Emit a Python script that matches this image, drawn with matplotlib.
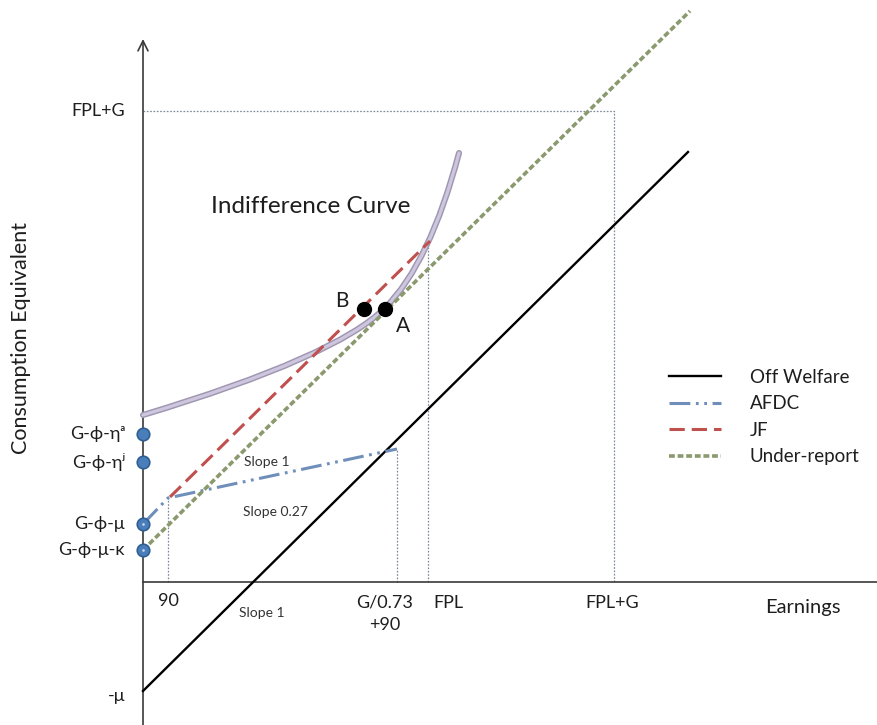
import matplotlib
matplotlib.use("Agg")
import matplotlib.pyplot as plt
from matplotlib.path import Path
from matplotlib.patches import PathPatch

plt.rcParams["font.family"] = ["Lato", "DejaVu Sans"]
plt.rcParams["lines.scale_dashes"] = False

# values (origin at the axes crossing, one unit ~ one pixel)
fpl = 285
g = 186
x_90 = 25
x_afdc_end = 254          # G/0.73 + 90

off_welfare_x = [0, 545]
off_welfare_y = [-109, 430]
underreport_x = [0, 547]
underreport_y = [32, 571]
jf_x = [27, 287]
jf_y = [85, 341]
afdc_x = [0, 25, 254]
afdc_y = [58, 84, 133]

# indifference curve: start, control, A, control, end (two quadratic pieces)
curve_x = [0, 193, 242, 287, 316]
curve_y = [167, 225, 274, 319, 429]

point_names = ["B", "A"]
point_x = [221, 242]
point_y = [273, 273]

yaxis_labels = ["G-ϕ-ηᵃ", "G-ϕ-ηʲ", "G-ϕ-μ", "G-ϕ-μ-κ"]
yaxis_vals = [148, 120, 58, 32]
mu_val = -109

fig = plt.figure(figsize=(8.78, 7.25), dpi=100)
ax = fig.add_axes([0, 0, 1, 1])
ax.set_xlim(-143, 735)
ax.set_ylim(-143, 582)
ax.axis("off")

axis_col = "#3a3a3a"
dot_col = "#7d8796"
text_col = "#1e1e1e"

# axes
ax.plot([0, 735], [0, 0], color=axis_col, lw=1.2, zorder=2)
ax.annotate("", xy=(0, 543), xytext=(0, -143),
            arrowprops=dict(arrowstyle="->", color=axis_col, lw=1.2,
                            mutation_scale=18, shrinkA=0, shrinkB=0))

# guide lines
dotted = dict(color=dot_col, lw=0.9, ls=(0, (1.2, 1.2)), zorder=1)
ax.plot([0, fpl + g, fpl + g], [fpl + g, fpl + g, 0], **dotted)
ax.plot([fpl, fpl], [0, jf_y[-1]], **dotted)
ax.plot([x_afdc_end, x_afdc_end], [0, afdc_y[-1]], **dotted)
ax.plot([x_90, x_90], [0, afdc_y[1]], **dotted)

# indifference curve
codes = [Path.MOVETO, Path.CURVE3, Path.CURVE3, Path.CURVE3, Path.CURVE3]
curve = Path(list(zip(curve_x, curve_y)), codes)
ax.add_patch(PathPatch(curve, fill=False, edgecolor="#9f96b0", lw=4.4,
                       capstyle="round", zorder=3))
ax.add_patch(PathPatch(curve, fill=False, edgecolor="#cec6de", lw=2.3,
                       capstyle="round", zorder=3))

# budget lines
ax.plot(off_welfare_x, off_welfare_y, color="black", lw=1.7, label="Off Welfare", zorder=4)
ax.plot(afdc_x, afdc_y, color="#6f8fba", lw=2.2,
        ls=(0, (15, 4, 2, 4, 2, 4)), label="AFDC", zorder=4)
ax.plot(jf_x, jf_y, color="#c0504d", lw=2.2, ls=(0, (11, 5)), label="JF", zorder=4)
ax.plot(underreport_x, underreport_y, color="#8b9a6e", lw=2.6,
        ls=(0, (4.2, 2.0)), label="Under-report", zorder=4)

# points B and A
ax.plot(point_x, point_y, "o", color="black", ms=10, zorder=5)
ax.text(point_x[0] - 22, point_y[0] + 8, point_names[0], fontsize=15,
        ha="center", va="center", color=text_col)
ax.text(point_x[1] + 18, point_y[1] - 17, point_names[1], fontsize=15,
        ha="center", va="center", color=text_col)
ax.text(168, 376, "Indifference Curve", fontsize=17.5, ha="center", va="center",
        color=text_col)

# markers on the vertical axis
ax.plot([0] * len(yaxis_vals), yaxis_vals, "o", color="#4a7ebb", mec="#2f5f92",
        mew=1.2, ms=9, zorder=6)
ax.plot([0, 0], yaxis_vals[2:], ".", color="#c9d6e8", ms=1.8, zorder=7)

lab = dict(fontsize=13, ha="right", va="center", color=text_col)
for name, v in zip(yaxis_labels, yaxis_vals):
    ax.text(-18, v, name, **lab)
ax.text(-18, fpl + g, "FPL+G", **lab)
ax.text(-18, mu_val - 5, "-μ", **lab)

# horizontal axis labels
xl = dict(fontsize=13, ha="center", va="center", color=text_col)
ax.text(x_90, -19, "90", **xl)
ax.text(x_afdc_end - 12, -20, "G/0.73", **xl)
ax.text(x_afdc_end - 12, -43, "+90", **xl)
ax.text(fpl + 20, -21, "FPL", **xl)
ax.text(fpl + g - 2, -21, "FPL+G", **xl)
ax.text(660, -25, "Earnings", fontsize=14.5, ha="center", va="center", color=text_col)

# slope notes
small = dict(fontsize=10, ha="center", va="center", color="#333333")
ax.text(124, 120, "Slope 1", **small)
ax.text(132, 70, "Slope 0.27", **small)
ax.text(119, -31, "Slope 1", **small)

ax.text(-122, 244, "Consumption Equivalent", fontsize=15.5, rotation=90,
        ha="center", va="center", color=text_col)

ax.legend(loc="upper left", bbox_to_anchor=(526, 213), bbox_transform=ax.transData,
          frameon=False, fontsize=13.5, handlelength=2.8, handletextpad=1.5,
          labelspacing=0.5, borderpad=0, borderaxespad=0, labelcolor=text_col)

fig.savefig("out.png", dpi=100)
